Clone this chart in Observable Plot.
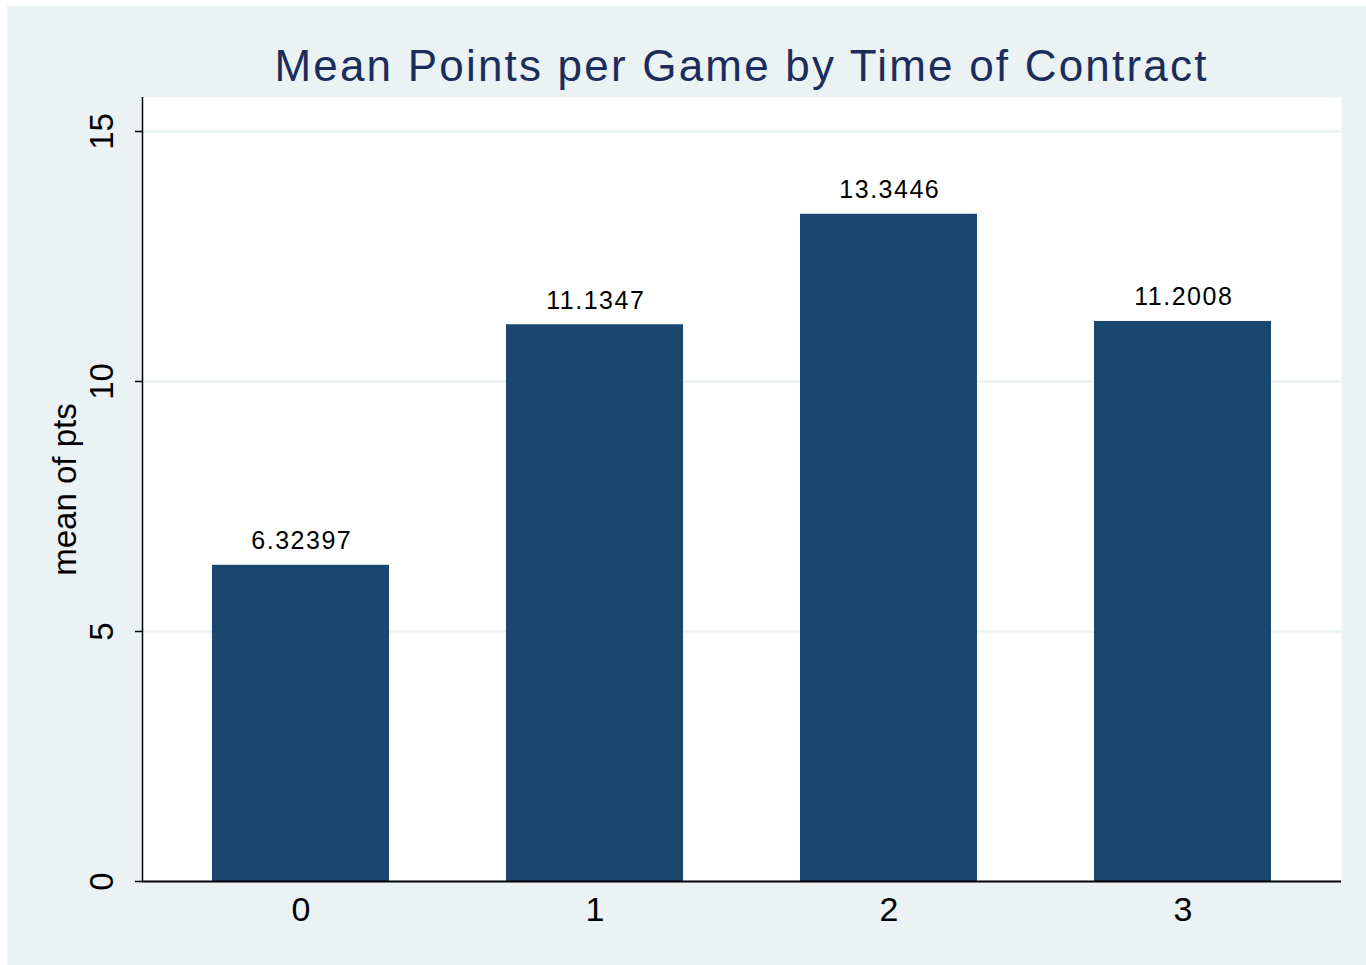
<!DOCTYPE html>
<html>
<head>
<meta charset="utf-8">
<script src="https://cdn.jsdelivr.net/npm/d3@7"></script>
<script src="https://cdn.jsdelivr.net/npm/@observablehq/plot@0.6"></script>
<style>
  html, body { margin: 0; padding: 0; background: #ffffff; }
  #wrap { position: absolute; left: 7px; top: 6px; width: 1359px; height: 959px; background: #EAF2F3; font-family: "Liberation Sans", Arial, Helvetica, sans-serif; }
  #title { position: absolute; left: 135px; top: 38px; width: 1199px; text-align: center; font-size: 44px; line-height: 44px; letter-spacing: 2.2px; color: #1c2d5c; white-space: nowrap; }
  #chart { position: absolute; left: 0; top: 91px; }
</style>
</head>
<body>
<div id="wrap">
  <div id="title">Mean Points per Game by Time of Contract</div>
  <div id="chart"></div>
</div>
<script>
const categories = ["0", "1", "2", "3"];
const meanPts = [6.32397, 11.1347, 13.3446, 11.2008];
const valueLabels = ["6.32397", "11.1347", "13.3446", "11.2008"];
const yTicks = [0, 5, 10, 15];
const gridTicks = [5, 10, 15];
const yLabel = "mean of pts";

const data = categories.map((c, i) => ({cat: c, value: meanPts[i], label: valueLabels[i]}));

const font = "Liberation Sans, Arial, Helvetica, sans-serif";

const plot = Plot.plot({
  width: 1359,
  height: 868,
  marginTop: 0,
  marginLeft: 135,
  marginRight: 25,
  marginBottom: 84,
  style: {background: "transparent", fontFamily: font, color: "black"},
  x: {type: "band", domain: categories, paddingInner: 0.398, paddingOuter: 0.238, align: 0.5, axis: null},
  y: {domain: [0, 15.68], axis: null},
  marks: [
    Plot.frame({fill: "white", stroke: null}),
    Plot.gridY(gridTicks, {stroke: "#EAF2F3", strokeOpacity: 1, strokeWidth: 2.5}),
    Plot.barY(data, {x: "cat", y: "value", fill: "#1a476f"}),
    Plot.text(data, {x: "cat", y: "value", text: "label", dy: -24, dx: 0.8, fontSize: 25, lineAnchor: "middle", fill: "black"}),
    Plot.axisY({ticks: yTicks, tickSize: 7, tickFormat: () => "", label: null, strokeWidth: 1.5, stroke: "black"}),
    Plot.frame({anchor: "left", stroke: "black", strokeWidth: 1.5}),
    Plot.ruleY([0], {stroke: "black", strokeWidth: 2}),
    Plot.text(yTicks, {y: d => d, text: d => String(d), frameAnchor: "left", dx: -40, rotate: -90, fontSize: 33, textAnchor: "middle", lineAnchor: "middle", fill: "black"}),
    Plot.text(categories, {x: d => d, text: d => d, frameAnchor: "bottom", dy: 29, fontSize: 34, lineAnchor: "middle", fill: "black"}),
    Plot.text([yLabel], {text: d => d, frameAnchor: "left", dx: -77, rotate: -90, fontSize: 33, textAnchor: "middle", lineAnchor: "middle", fill: "black"})
  ]
});
d3.select(plot).selectAll("text")
  .filter(function () { return valueLabels.includes(this.textContent); })
  .style("letter-spacing", "1.5px");
document.getElementById("chart").appendChild(plot);
</script>
</body>
</html>
